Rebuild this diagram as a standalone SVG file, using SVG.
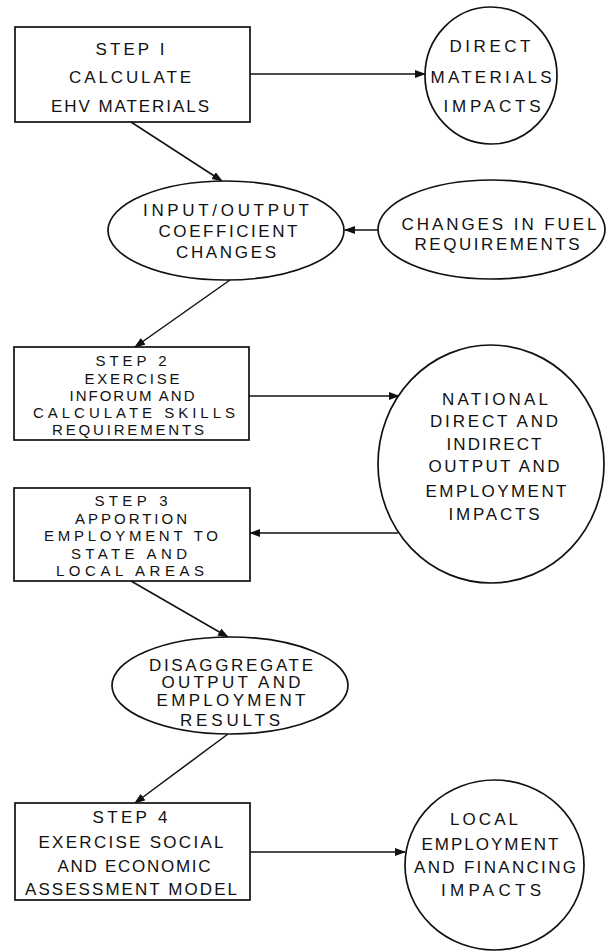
<svg xmlns="http://www.w3.org/2000/svg" width="606" height="952" viewBox="0 0 606 952">
<style>
.shape{fill:#fff;stroke:#111;stroke-width:1.7}
.conn{fill:none;stroke:#111;stroke-width:1.5}
text{font-family:"Liberation Sans",Arial,sans-serif;font-size:17px;fill:#111;text-anchor:middle}
.tight text{font-size:15px}
</style>
<defs>
<marker id="ah" markerUnits="userSpaceOnUse" markerWidth="11" markerHeight="8" refX="10" refY="4" orient="auto">
<path d="M0,0 L11,4 L0,8 z" fill="#111"/>
</marker>
</defs>
<rect width="606" height="952" fill="#fff"/>
<g id="connectors">
<line class="conn" x1="250" y1="74" x2="425" y2="74" marker-end="url(#ah)"/>
<line class="conn" x1="131" y1="122" x2="222" y2="181" marker-end="url(#ah)"/>
<line class="conn" x1="378" y1="230" x2="345" y2="230" marker-end="url(#ah)"/>
<line class="conn" x1="230" y1="280" x2="135" y2="347" marker-end="url(#ah)"/>
<line class="conn" x1="249" y1="396" x2="399" y2="396" marker-end="url(#ah)"/>
<line class="conn" x1="398" y1="533" x2="250" y2="533" marker-end="url(#ah)"/>
<line class="conn" x1="131" y1="581" x2="228" y2="637" marker-end="url(#ah)"/>
<line class="conn" x1="228" y1="734" x2="135" y2="803" marker-end="url(#ah)"/>
<line class="conn" x1="250" y1="852" x2="405" y2="852" marker-end="url(#ah)"/>
</g>
<g id="step1">
<rect class="shape" x="15" y="27" width="235" height="95"/>
<text x="130" y="55" textLength="69" lengthAdjust="spacing">STEP I</text>
<text x="130" y="83" textLength="122" lengthAdjust="spacing">CALCULATE</text>
<text x="130" y="112" textLength="158" lengthAdjust="spacing">EHV MATERIALS</text>
</g>
<g id="direct-materials">
<ellipse class="shape" cx="491" cy="75.5" rx="66" ry="68.5"/>
<text x="490" y="52" textLength="81" lengthAdjust="spacing">DIRECT</text>
<text x="491" y="83" textLength="121" lengthAdjust="spacing">MATERIALS</text>
<text x="492" y="112" textLength="97" lengthAdjust="spacing">IMPACTS</text>
</g>
<g id="io-coefficient">
<ellipse class="shape" cx="226" cy="230.5" rx="118" ry="49.5"/>
<text x="226" y="216" textLength="166" lengthAdjust="spacing">INPUT/OUTPUT</text>
<text x="228" y="237" textLength="139" lengthAdjust="spacing">COEFFICIENT</text>
<text x="226" y="258" textLength="100" lengthAdjust="spacing">CHANGES</text>
</g>
<g id="fuel-requirements">
<ellipse class="shape" cx="491.5" cy="229.5" rx="113.5" ry="49.5"/>
<text x="499" y="230" textLength="195" lengthAdjust="spacing">CHANGES IN FUEL</text>
<text x="497" y="250" textLength="165" lengthAdjust="spacing">REQUIREMENTS</text>
</g>
<g id="step2" class="tight">
<rect class="shape" x="14" y="347" width="235" height="93"/>
<text x="131" y="365.5" textLength="71" lengthAdjust="spacing">STEP 2</text>
<text x="132" y="383.5" textLength="95" lengthAdjust="spacing">EXERCISE</text>
<text x="132" y="401" textLength="125" lengthAdjust="spacing">INFORUM AND</text>
<text x="134" y="418" textLength="202" lengthAdjust="spacing">CALCULATE SKILLS</text>
<text x="128" y="435" textLength="152" lengthAdjust="spacing">REQUIREMENTS</text>
</g>
<g id="national-impacts">
<ellipse class="shape" cx="491" cy="464" rx="113" ry="119"/>
<text x="495" y="405" textLength="106" lengthAdjust="spacing">NATIONAL</text>
<text x="494" y="427" textLength="128" lengthAdjust="spacing">DIRECT AND</text>
<text x="494" y="450" textLength="95" lengthAdjust="spacing">INDIRECT</text>
<text x="494" y="472" textLength="131" lengthAdjust="spacing">OUTPUT AND</text>
<text x="496" y="497" textLength="141" lengthAdjust="spacing">EMPLOYMENT</text>
<text x="494" y="520" textLength="91" lengthAdjust="spacing">IMPACTS</text>
</g>
<g id="step3" class="tight">
<rect class="shape" x="14" y="488" width="236" height="93"/>
<text x="131" y="506" textLength="73" lengthAdjust="spacing">STEP 3</text>
<text x="131" y="523.5" textLength="112" lengthAdjust="spacing">APPORTION</text>
<text x="131" y="541" textLength="174" lengthAdjust="spacing">EMPLOYMENT TO</text>
<text x="129" y="558.5" textLength="116" lengthAdjust="spacing">STATE AND</text>
<text x="130" y="576" textLength="148" lengthAdjust="spacing">LOCAL AREAS</text>
</g>
<g id="disaggregate">
<ellipse class="shape" cx="230" cy="685.5" rx="118" ry="48.5"/>
<text x="231" y="670.5" textLength="164" lengthAdjust="spacing">DISAGGREGATE</text>
<text x="231" y="688" textLength="139" lengthAdjust="spacing">OUTPUT AND</text>
<text x="231" y="706" textLength="149" lengthAdjust="spacing">EMPLOYMENT</text>
<text x="230" y="726" textLength="100" lengthAdjust="spacing">RESULTS</text>
</g>
<g id="step4">
<rect class="shape" x="15" y="803" width="235" height="97"/>
<text x="130" y="822.5" textLength="75" lengthAdjust="spacing">STEP 4</text>
<text x="131" y="848" textLength="185" lengthAdjust="spacing">EXERCISE SOCIAL</text>
<text x="134" y="871.5" textLength="153" lengthAdjust="spacing">AND ECONOMIC</text>
<text x="131" y="895" textLength="212" lengthAdjust="spacing">ASSESSMENT MODEL</text>
</g>
<g id="local-impacts">
<ellipse class="shape" cx="494.5" cy="865" rx="89.5" ry="85"/>
<text x="484" y="825" textLength="68" lengthAdjust="spacing">LOCAL</text>
<text x="490" y="850" textLength="137" lengthAdjust="spacing">EMPLOYMENT</text>
<text x="495" y="873" textLength="162" lengthAdjust="spacing">AND FINANCING</text>
<text x="491" y="896" textLength="100" lengthAdjust="spacing">IMPACTS</text>
</g>
</svg>
